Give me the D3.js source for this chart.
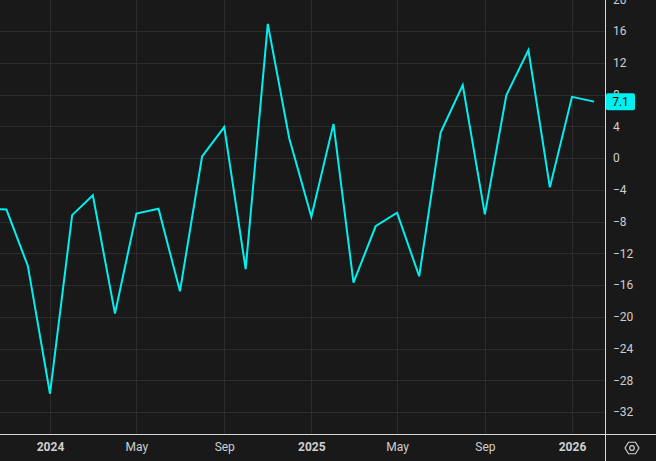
<!DOCTYPE html>
<html>
<head>
<meta charset="utf-8">
<script src="https://cdn.jsdelivr.net/npm/d3@7"></script>
<style>
  html, body { margin: 0; padding: 0; background: #191919; }
  svg { display: block; }
</style>
</head>
<body>
<svg id="chart" width="656" height="461"></svg>
<script>
// ---- data ----
const months = [
  "2023-10","2023-11","2023-12",
  "2024-01","2024-02","2024-03","2024-04","2024-05","2024-06",
  "2024-07","2024-08","2024-09","2024-10","2024-11","2024-12",
  "2025-01","2025-02","2025-03","2025-04","2025-05","2025-06",
  "2025-07","2025-08","2025-09","2025-10","2025-11","2025-12",
  "2026-01","2026-02"
];
const values = [
  -6.4, -6.5, -13.6,
  -29.7, -7.2, -4.7, -19.6, -7.0, -6.4,
  -16.8, 0.2, 3.9, -14.0, 16.9, 2.5,
  -7.4, 4.3, -15.7, -8.6, -6.9, -14.9,
  3.2, 9.2, -7.1, 7.9, 13.6, -3.7,
  7.7, 7.1
];
const yTicks = [20, 16, 12, 8, 4, 0, -4, -8, -12, -16, -20, -24, -28, -32];
const xTickDates = ["2024-01","2024-05","2024-09","2025-01","2025-05","2025-09","2026-01"];
const xTickLabels = ["2024","May","Sep","2025","May","Sep","2026"];
const lastLabel = "7.1";

// ---- layout ----
const W = 656, H = 461;
const plotRight = 605, plotBottom = 434;
const parse = d3.timeParse("%Y-%m");
const data = months.map((m, i) => ({ date: parse(m), value: values[i] }));

const x = d3.scaleTime()
  .domain([new Date(2024, 0, 1), new Date(2026, 0, 1)])
  .range([50, 572]);
const y = d3.scaleLinear()
  .domain([0, -32])
  .range([158, 412]);

const svg = d3.select("#chart");
svg.append("rect").attr("width", W).attr("height", H).attr("fill", "#191919");

const grid = svg.append("g");
// horizontal grid
grid.selectAll("line.h").data(yTicks).join("line")
  .attr("x1", 0).attr("x2", plotRight)
  .attr("y1", d => Math.round(y(d)) + 0.5).attr("y2", d => Math.round(y(d)) + 0.5)
  .attr("stroke", "#2c2c2c").attr("stroke-width", 1);
// vertical grid
grid.selectAll("line.v").data(xTickDates).join("line")
  .attr("x1", d => Math.round(x(parse(d))) + 0.5).attr("x2", d => Math.round(x(parse(d))) + 0.5)
  .attr("y1", 0).attr("y2", plotBottom)
  .attr("stroke", "#2c2c2c").attr("stroke-width", 1);

// line
const clip = svg.append("clipPath").attr("id", "clip")
  .append("rect").attr("x", 0).attr("y", 0).attr("width", plotRight).attr("height", plotBottom);
svg.append("path")
  .datum(data)
  .attr("clip-path", "url(#clip)")
  .attr("fill", "none")
  .attr("stroke", "#00f0f0")
  .attr("stroke-width", 2)
  .attr("stroke-linejoin", "miter")
  .attr("d", d3.line().x(d => x(d.date)).y(d => y(d.value)));

// axes lines
svg.append("line").attr("x1", 0).attr("x2", W).attr("y1", plotBottom + 0.5).attr("y2", plotBottom + 0.5)
  .attr("stroke", "#d8d8d8").attr("stroke-width", 1);
svg.append("line").attr("x1", plotRight + 0.5).attr("x2", plotRight + 0.5).attr("y1", 0).attr("y2", H)
  .attr("stroke", "#d8d8d8").attr("stroke-width", 1);

// y axis labels
const font = "Roboto, 'Noto Sans', sans-serif";
const yAxis = d3.axisRight(y).tickValues(yTicks).tickSize(0).tickPadding(0)
  .tickFormat(d => d < 0 ? "\u2212" + Math.abs(d) : String(d));
const gy = svg.append("g").attr("transform", `translate(${plotRight + 8},0)`).call(yAxis);
gy.select(".domain").remove();
gy.selectAll("text").attr("fill", "#cfcfcf").attr("font-family", font).attr("font-size", 12);

// x axis labels
const xAxis = d3.axisBottom(x).tickValues(xTickDates.map(parse)).tickSize(0).tickPadding(0)
  .tickFormat((d, i) => xTickLabels[i]);
const gx = svg.append("g").attr("transform", `translate(0,${plotBottom + 8})`).call(xAxis);
gx.select(".domain").remove();
gx.selectAll("text").attr("fill", "#cfcfcf").attr("font-family", font).attr("font-size", 12)
  .attr("font-weight", (d, i) => /^\d{4}$/.test(xTickLabels[i]) ? "bold" : "normal");

// last value label
const last = data[data.length - 1];
const ly = y(last.value);
svg.append("rect").attr("x", plotRight + 1).attr("y", ly - 8.5).attr("width", 29).attr("height", 17)
  .attr("rx", 2).attr("fill", "#00f0f0");
svg.append("text").attr("x", plotRight + 15.5).attr("y", ly).attr("dy", "0.35em")
  .attr("text-anchor", "middle").attr("fill", "#0a0a0a")
  .attr("font-family", font).attr("font-size", 12).text(lastLabel);

// settings icon
const cx = 632, cy = 448, r = 7;
const hex = d3.range(6).map(i => {
  const a = Math.PI / 3 * i;
  return [cx + r * Math.cos(a), cy + r * 0.95 * Math.sin(a)];
});
svg.append("path").attr("d", "M" + hex.map(p => p.join(",")).join("L") + "Z")
  .attr("fill", "none").attr("stroke", "#cfcfcf").attr("stroke-width", 1.2);
svg.append("circle").attr("cx", cx).attr("cy", cy).attr("r", 2.3)
  .attr("fill", "none").attr("stroke", "#cfcfcf").attr("stroke-width", 1.2);
</script>
</body>
</html>
